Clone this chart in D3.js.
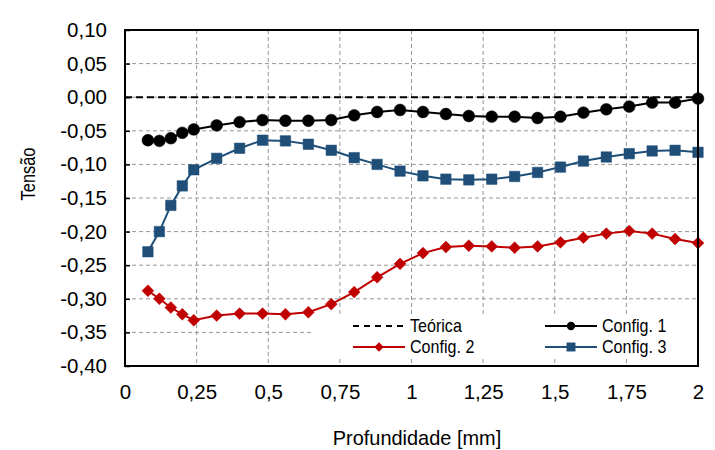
<!DOCTYPE html>
<html>
<head>
<meta charset="utf-8">
<script src="https://cdn.jsdelivr.net/npm/d3@7"></script>
<style>
  html, body { margin: 0; padding: 0; background: #fff; }
  svg { display: block; }
  text { font-family: "Liberation Sans", Arial, sans-serif; fill: #000; }
</style>
</head>
<body>
<svg id="chart" width="715" height="450"></svg>
<script>
// ---- Data ----
const depth = [0.08, 0.12, 0.16, 0.20, 0.24, 0.32, 0.40, 0.48, 0.56, 0.64, 0.72, 0.80, 0.88, 0.96,
               1.04, 1.12, 1.20, 1.28, 1.36, 1.44, 1.52, 1.60, 1.68, 1.76, 1.84, 1.92, 2.00];
const config1 = [-0.064, -0.065, -0.061, -0.053, -0.048, -0.042, -0.037, -0.034, -0.035, -0.035, -0.034, -0.027, -0.022, -0.019,
                 -0.022, -0.025, -0.028, -0.029, -0.029, -0.031, -0.029, -0.023, -0.018, -0.014, -0.008, -0.008, -0.002];
const config2 = [-0.288, -0.300, -0.313, -0.323, -0.332, -0.325, -0.322, -0.322, -0.323, -0.320, -0.308, -0.290, -0.268, -0.248,
                 -0.232, -0.223, -0.221, -0.222, -0.224, -0.222, -0.216, -0.209, -0.203, -0.199, -0.203, -0.211, -0.217];
const config3 = [-0.230, -0.200, -0.161, -0.132, -0.108, -0.091, -0.076, -0.064, -0.065, -0.070, -0.079, -0.090, -0.100, -0.110,
                 -0.117, -0.122, -0.123, -0.122, -0.118, -0.112, -0.104, -0.095, -0.089, -0.084, -0.080, -0.079, -0.082];
const teoricaX = [0, 2];
const teoricaY = [0, 0];
const xTicks = [0, 0.25, 0.5, 0.75, 1, 1.25, 1.5, 1.75, 2];
const xTickLabels = ["0", "0,25", "0,5", "0,75", "1", "1,25", "1,5", "1,75", "2"];
const yTicks = [0.10, 0.05, 0.00, -0.05, -0.10, -0.15, -0.20, -0.25, -0.30, -0.35, -0.40];
const yTickLabels = ["0,10", "0,05", "0,00", "-0,05", "-0,10", "-0,15", "-0,20", "-0,25", "-0,30", "-0,35", "-0,40"];
const seriesNames = ["Teórica", "Config. 1", "Config. 2", "Config. 3"];
const xTitle = "Profundidade [mm]";
const yTitle = "Tensão";

// ---- Layout ----
const L = 125, R = 698, T = 30, B = 366;
const svg = d3.select("#chart");
const x = d3.scaleLinear().domain([0, 2]).range([L, R]);
const y = d3.scaleLinear().domain([-0.4, 0.1]).range([B, T]);

const colors = { c1: "#000000", c2: "#C00000", c3: "#1F4E79" };

// gridlines
const grid = svg.append("g");
grid.selectAll("line.h").data(yTicks.filter(v => v > -0.39 && v < 0.09)).enter().append("line")
  .attr("x1", L).attr("x2", R).attr("y1", d => y(d)).attr("y2", d => y(d))
  .attr("stroke", "#969696").attr("stroke-width", 1).attr("stroke-dasharray", "4,3");
grid.selectAll("line.v").data(xTicks.filter(v => v > 0.01 && v < 1.99)).enter().append("line")
  .attr("x1", d => x(d)).attr("x2", d => x(d)).attr("y1", T).attr("y2", B)
  .attr("stroke", "#969696").attr("stroke-width", 1).attr("stroke-dasharray", "4,3");

// Left axis with inward ticks
const yAxis = d3.axisLeft(y).tickValues(yTicks).tickSize(-5).tickFormat((d, i) => yTickLabels[i]).tickPadding(18);
const gy = svg.append("g").attr("transform", `translate(${L},0)`).call(yAxis);
gy.select(".domain").remove();
gy.selectAll(".tick line").attr("stroke", "#000").attr("stroke-width", 1.5);
gy.selectAll(".tick text").style("font-size", "20.5px").attr("fill", "#000");

// Bottom axis labels
const xAxis = d3.axisBottom(x).tickValues(xTicks).tickSize(0).tickFormat((d, i) => xTickLabels[i]).tickPadding(18);
const gx = svg.append("g").attr("transform", `translate(0,${B})`).call(xAxis);
gx.select(".domain").remove();
gx.selectAll(".tick text").style("font-size", "20.5px").attr("fill", "#000");

// Teórica
const line = d3.line().x(d => x(d[0])).y(d => y(d[1]));
svg.append("path").datum(teoricaX.map((v, i) => [v, teoricaY[i]]))
  .attr("d", line).attr("fill", "none").attr("stroke", "#000").attr("stroke-width", 2).attr("stroke-dasharray", "7,4");

function drawSeries(vals, color, shape, size) {
  const pts = depth.map((d, i) => [d, vals[i]]);
  svg.append("path").datum(pts).attr("d", line).attr("fill", "none")
    .attr("stroke", color).attr("stroke-width", 2);
  const sym = d3.symbol().type(shape).size(size);
  svg.append("g").selectAll("path").data(pts).enter().append("path")
    .attr("d", sym).attr("transform", d => `translate(${x(d[0])},${y(d[1])})`)
    .attr("fill", color).attr("stroke", color).attr("stroke-width", 0.5);
}
drawSeries(config3, colors.c3, d3.symbolSquare, 110);
drawSeries(config2, colors.c2, d3.symbolDiamond2, 90);
drawSeries(config1, colors.c1, d3.symbolCircle, 110);

// Legend box
const lg = svg.append("g");
lg.append("rect").attr("x", 313).attr("y", 316).attr("width", R - 313 - 1).attr("height", 43).attr("fill", "#fff");
const legendItems = [
  { name: seriesNames[0], color: "#000", dash: "6,5", shape: null, lx: 353, ly: 326 },
  { name: seriesNames[1], color: colors.c1, dash: null, shape: d3.symbolCircle, size: 55, lx: 545, ly: 326 },
  { name: seriesNames[2], color: colors.c2, dash: null, shape: d3.symbolDiamond2, size: 55, lx: 353, ly: 347 },
  { name: seriesNames[3], color: colors.c3, dash: null, shape: d3.symbolSquare, size: 80, lx: 545, ly: 347 }
];
legendItems.forEach(it => {
  lg.append("line").attr("x1", it.lx).attr("x2", it.lx + 52).attr("y1", it.ly).attr("y2", it.ly)
    .attr("stroke", it.color).attr("stroke-width", 2).attr("stroke-dasharray", it.dash);
  if (it.shape) {
    lg.append("path").attr("d", d3.symbol().type(it.shape).size(it.size)())
      .attr("transform", `translate(${it.lx + 26},${it.ly})`).attr("fill", it.color);
  }
  lg.append("text").attr("transform", `translate(${it.lx + 57},${it.ly}) scale(0.92,1)`).attr("dy", "0.36em")
    .style("font-size", "17.5px").text(it.name);
});

// Plot border
svg.append("rect").attr("x", L).attr("y", T).attr("width", R - L).attr("height", B - T)
  .attr("fill", "none").attr("stroke", "#000").attr("stroke-width", 2);

// Axis titles
svg.append("text").attr("transform", "translate(417,445) scale(0.95,1)").attr("text-anchor", "middle")
  .style("font-size", "21px").text(xTitle);
svg.append("text").attr("transform", "translate(35,174) rotate(-90) scale(0.8,1)").attr("text-anchor", "middle")
  .style("font-size", "20.5px").text(yTitle);
</script>
</body>
</html>
